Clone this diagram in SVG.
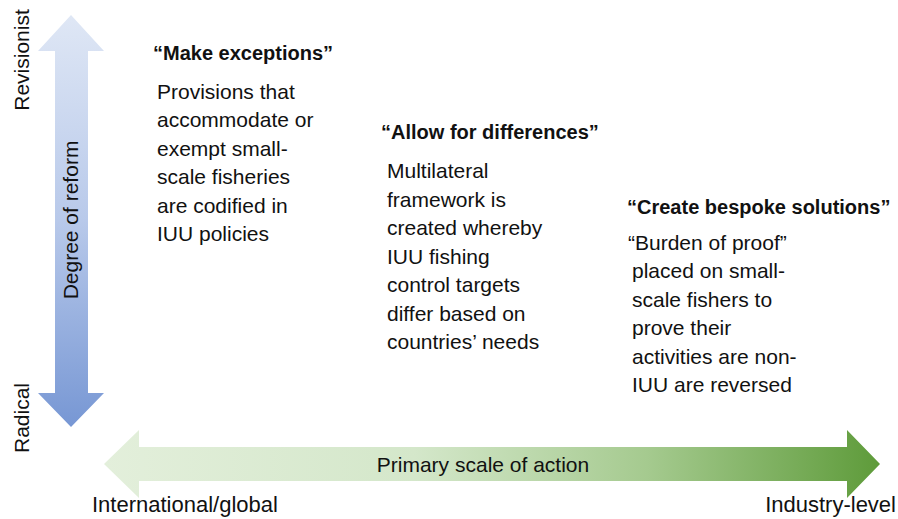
<svg xmlns="http://www.w3.org/2000/svg" width="898" height="519" viewBox="0 0 898 519">
<defs>
<linearGradient id="gv" x1="0" y1="0" x2="0" y2="1">
<stop offset="0" stop-color="#dfe7f5"/>
<stop offset="0.5" stop-color="#b8c9ea"/>
<stop offset="1" stop-color="#7797d4"/>
</linearGradient>
<linearGradient id="gh" x1="0" y1="0" x2="1" y2="0">
<stop offset="0" stop-color="#e3efdb"/>
<stop offset="0.4" stop-color="#d4e7ca"/>
<stop offset="0.7" stop-color="#a5ca8f"/>
<stop offset="1" stop-color="#5e9b3a"/>
</linearGradient>
<style>
text{font-family:"Liberation Sans",Arial,sans-serif;fill:#111;}
.h{font-weight:bold;font-size:20px;}
.b{font-size:21px;}
.ax{font-size:21px;}
.end{font-size:22px;}
</style>
</defs>
<g id="axes">
<path id="vertical-axis" d="M71,15 L104,51 L88,51 L88,393 L104,393 L71,427 L38,393 L55,393 L55,51 L38,51 Z" fill="url(#gv)"/>
<path id="horizontal-axis" d="M104,464 L139,430 L139,447 L847,447 L847,430 L880,464 L847,498 L847,481 L139,481 L139,498 Z" fill="url(#gh)"/>
<text class="ax" transform="translate(29,60) rotate(-90)" text-anchor="middle">Revisionist</text>
<text class="ax" transform="translate(29,418) rotate(-90)" text-anchor="middle">Radical</text>
<text class="ax" transform="translate(78,220) rotate(-90)" text-anchor="middle">Degree of reform</text>
<text class="ax" x="483" y="472" text-anchor="middle">Primary scale of action</text>
<text class="end" x="92" y="512">International/global</text>
<text class="end" x="896" y="512" text-anchor="end">Industry-level</text>
</g>
<g id="make-exceptions">
<text class="h" x="153" y="60">“Make exceptions”</text>
<text class="b" x="157" y="99">Provisions that</text>
<text class="b" x="157" y="127">accommodate or</text>
<text class="b" x="157" y="156">exempt small-</text>
<text class="b" x="157" y="184">scale fisheries</text>
<text class="b" x="157" y="213">are codified in</text>
<text class="b" x="157" y="241">IUU policies</text>
</g>
<g id="allow-for-differences">
<text class="h" x="381" y="139">“Allow for differences”</text>
<text class="b" x="387" y="178">Multilateral</text>
<text class="b" x="387" y="207">framework is</text>
<text class="b" x="387" y="235">created whereby</text>
<text class="b" x="387" y="264">IUU fishing</text>
<text class="b" x="387" y="292">control targets</text>
<text class="b" x="387" y="321">differ based on</text>
<text class="b" x="387" y="349">countries’ needs</text>
</g>
<g id="create-bespoke-solutions">
<text class="h" x="627" y="214">“Create bespoke solutions”</text>
<text class="b" x="628" y="250">“Burden of proof”</text>
<text class="b" x="632" y="278">placed on small-</text>
<text class="b" x="632" y="307">scale fishers to</text>
<text class="b" x="632" y="335">prove their</text>
<text class="b" x="632" y="364">activities are non-</text>
<text class="b" x="632" y="392">IUU are reversed</text>
</g>
</svg>
